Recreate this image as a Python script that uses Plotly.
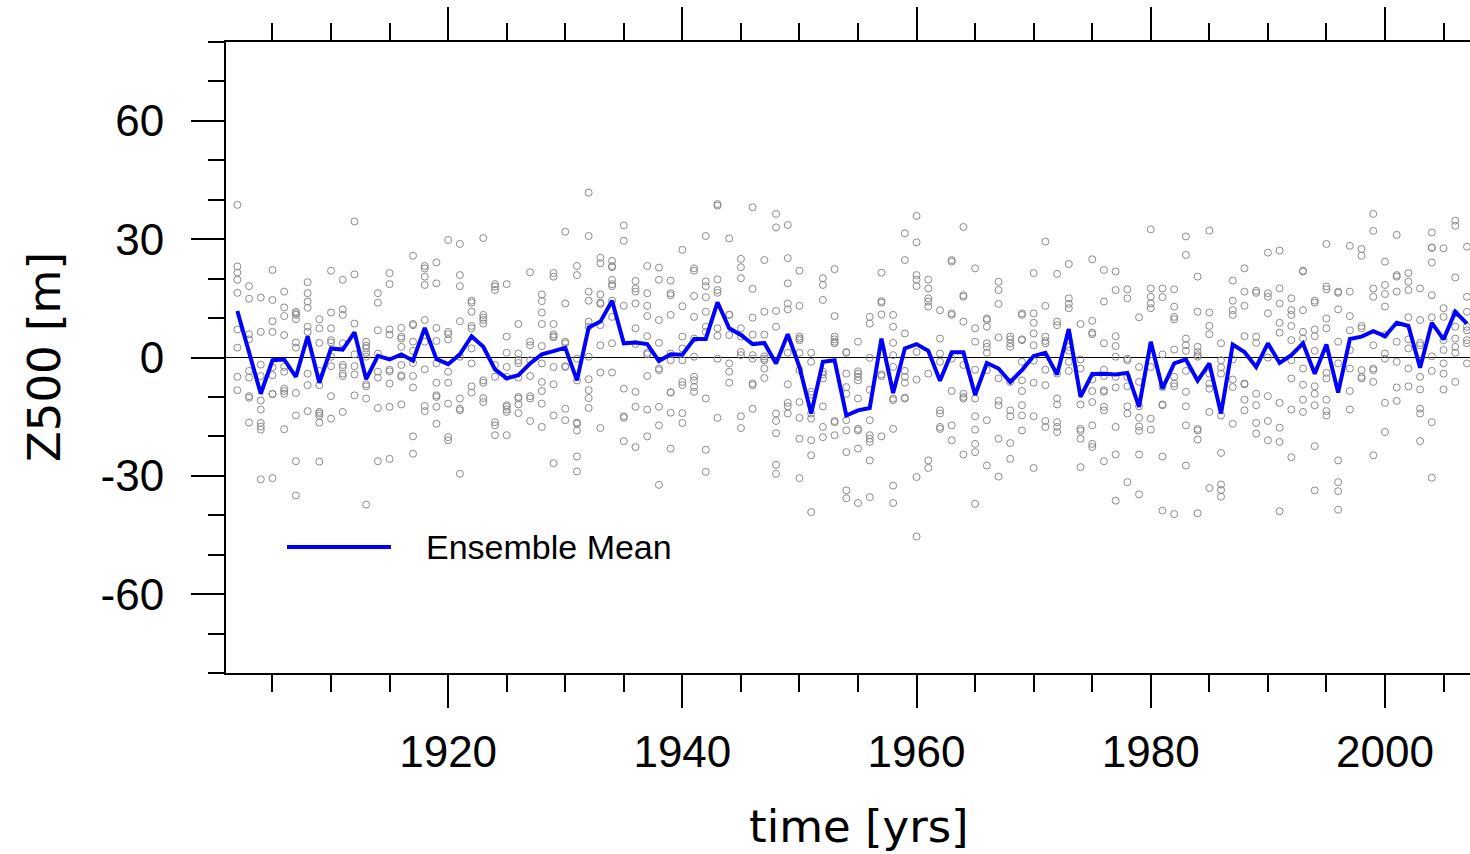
import plotly.graph_objects as go

years = list(range(1902, 2008))

ens_mean = [
    11.8, 1.0, -9.2, -0.7, -0.5, -4.9, 5.4, -6.4, 2.3, 2.0,          # 1902-1911
    6.4, -5.5, 0.4, -0.5, 0.8, -0.8, 7.5, -0.4, -1.7, 0.8,           # 1912-1921
    5.4, 2.7, -3.0, -5.3, -4.5, -1.5, 0.8, 1.6, 2.5, -5.8,           # 1922-1931
    7.6, 9.1, 14.4, 3.6, 3.8, 3.4, -0.9, 0.8, 0.7, 4.7,              # 1932-1941
    4.7, 14.0, 7.4, 5.7, 3.4, 3.7, -1.5, 5.9, -2.4, -14.2,           # 1942-1951
    -1.1, -0.7, -14.7, -13.4, -12.8, 4.8, -9.0, 2.3, 3.4, 1.7,       # 1952-1961
    -5.9, 1.3, 1.3, -9.5, -1.4, -2.8, -6.2, -3.2, 0.4, 1.2,          # 1962-1971
    -4.3, 7.2, -10.0, -4.2, -4.1, -4.3, -3.9, -12.5, 4.0, -7.9,      # 1972-1981
    -1.5, -0.5, -5.9, -1.5, -14.2, 3.3, 1.4, -2.4, 3.6, -1.4,        # 1982-1991
    0.6, 3.6, -4.1, 3.3, -8.9, 4.7, 5.3, 6.7, 5.4, 8.8,              # 1992-2001
    8.0, -2.6, 8.8, 4.6, 11.6, 8.6,                                  # 2002-2007
]

ensemble_members = [
    [38.7, 23.1, 21.5, 19.7, 16.4, 7.1, 2.5, -4.9, -8.3],
    [18.1, 14.9, 5.9, 4.6, -3.4, -5.1, -9.8, -10.2, -16.5],
    [15.2, 6.5, -1.8, -4.7, -10.9, -13.2, -16.6, -17.5, -18.3, -30.9],
    [22.2, 14.6, 9.2, 6.5, -2.5, -4.5, -9.2, -9.3, -30.6],
    [16.7, 12.7, 10.5, 5.7, -2.4, -3.6, -7.9, -8.5, -9.2, -18.2],
    [11.6, 11.2, 10.8, 9.7, 3.8, 2.5, -9.0, -14.7, -26.3, -35.0],
    [19.1, 16.3, 14.2, 12.6, 7.8, 6.5, -4.1, -7.0, -13.6],
    [9.7, 7.4, 3.7, -3.4, -7.0, -13.8, -14.2, -14.8, -16.5, -26.4],
    [22.0, 11.4, 7.4, 4.4, 3.8, 0.2, -2.2, -9.8, -15.5],
    [19.7, 12.2, 10.8, 3.6, -1.9, -2.5, -4.1, -4.7, -13.8],
    [34.5, 21.1, 8.6, 0.8, -2.2, -4.3, -9.6],
    [4.0, 3.0, 2.3, 1.2, 0.2, -6.8, -7.3, -10.4, -37.3],
    [16.3, 13.9, 6.9, 1.0, -3.6, -5.1, -12.8, -26.3],
    [21.4, 18.6, 7.1, 5.8, -3.1, -3.5, -6.6, -12.5, -25.7],
    [7.5, 5.3, 4.8, 2.7, -1.9, -4.5, -4.9, -11.9],
    [25.8, 8.5, 8.2, 4.0, 1.7, -1.4, -4.7, -7.6, -20.0, -24.4],
    [23.2, 22.6, 20.5, 18.4, 9.5, 4.0, -3.0, -12.3, -13.6],
    [24.1, 18.8, 7.5, 4.2, -1.5, -6.4, -9.6, -10.0, -12.5, -16.8],
    [29.8, 6.5, 5.9, 4.6, -3.6, -6.4, -11.7, -20.2, -21.0],
    [28.8, 20.9, 18.1, 9.2, 0.2, -10.4, -13.0, -13.4, -29.5],
    [14.4, 13.9, 11.6, 8.0, 7.4, 2.3, -1.5, -7.3, -8.9],
    [30.3, 10.8, 10.1, 9.5, 8.6, -5.8, -6.4, -10.3, -11.3],
    [18.6, 18.0, 17.1, -1.9, -4.9, -16.4, -17.2, -19.7],
    [18.6, 5.3, 1.2, -2.4, -4.9, -12.1, -12.5, -13.2, -13.8, -19.7],
    [8.5, 1.0, -0.7, -1.4, -5.1, -10.0, -10.4, -11.9, -14.1],
    [21.6, 4.0, 3.1, -0.7, -4.7, -9.8, -10.4, -16.1],
    [16.0, 14.3, 11.4, 8.5, 2.9, -1.5, -6.2, -8.5, -11.7, -17.6],
    [21.4, 20.5, 8.5, 5.9, 5.4, 5.1, -2.4, -6.8, -14.7, -26.8],
    [31.9, 13.7, 4.0, 3.6, -2.2, -2.4, -13.0, -15.9],
    [23.2, 20.9, -0.3, -5.8, -16.5, -16.8, -18.5, -25.1, -28.9],
    [41.8, 30.8, 16.7, 14.4, 9.1, 7.8, 0.2, -5.5, -8.3, -10.3, -12.8],
    [25.3, 23.9, 16.0, 13.9, 13.6, 8.2, 3.1, -3.8, -17.9],
    [24.5, 23.2, 22.9, 19.7, 18.6, 18.1, 14.4, 10.3, 3.6, -3.8],
    [33.5, 29.6, 13.1, -7.9, -14.9, -15.3, -21.2],
    [19.4, 17.5, 16.7, 13.7, 7.4, 3.4, -8.7, -12.5, -22.7],
    [23.2, 16.3, 13.1, 10.5, 5.4, 1.2, 0.8, -4.7, -13.2, -20.0],
    [22.8, 19.7, 9.5, 3.7, -2.8, -3.2, -12.5, -17.2, -32.3],
    [19.5, 16.3, 15.8, 10.8, 1.0, -0.7, -8.8, -8.9, -14.0, -23.1],
    [27.3, 13.0, 5.3, 2.3, -0.7, -6.2, -7.0, -14.1, -16.6],
    [22.6, 22.0, 15.6, 10.3, 4.8, 0.2, -4.9, -5.8, -7.5, -8.7],
    [30.8, 19.3, 18.1, 15.3, 11.6, 7.8, 6.5, -10.4, -23.4, -29.0],
    [38.9, 38.5, 19.8, 17.1, 16.4, 7.4, 5.5, -0.3, -15.3],
    [30.2, 10.9, 10.8, 5.7, -1.5, -3.6, -6.4],
    [25.0, 22.9, 20.1, 7.4, 5.3, 1.4, 0.6, -14.9, -17.9],
    [38.1, 17.4, 10.1, 5.8, 0.6, -0.3, -6.6, -7.0, -13.0],
    [24.7, 11.6, 5.8, 0.3, -0.3, -0.7, -2.8, -5.2],
    [36.4, 33.0, 11.8, 7.8, -14.2, -16.1, -19.2, -27.2, -29.5],
    [33.6, 25.2, 18.8, 13.7, 12.2, 1.2, -6.8, -11.5, -12.4, -14.2],
    [22.0, 13.1, 5.3, 4.8, 4.4, 1.2, -3.2, -11.3, -15.3, -20.6, -30.6],
    [1.2, -1.1, -8.7, -9.4, -14.2, -15.5, -21.0, -24.8, -39.2],
    [20.1, 18.4, 14.6, -3.6, -4.3, -5.3, -12.4, -17.6, -20.2],
    [22.4, 10.5, 5.3, 4.6, 4.0, 3.6, -16.1, -16.4, -19.7],
    [1.4, 1.2, -4.1, -7.5, -9.2, -15.9, -18.5, -24.0, -33.7, -35.7],
    [4.0, -3.5, -4.1, -4.9, -5.8, -10.4, -18.1, -18.5, -23.1, -36.9],
    [10.3, 8.6, -0.1, -8.2, -15.9, -19.7, -20.6, -21.4, -26.1, -35.4],
    [21.5, 14.3, 13.9, 10.9, -4.3, -4.7, -20.0],
    [10.8, 7.8, 3.7, 0.6, -2.4, -10.4, -10.8, -18.1, -32.5, -36.9],
    [31.5, 24.7, 6.1, -3.4, -4.9, -6.4, -10.2, -10.4],
    [35.9, 29.2, 20.9, 19.7, 18.1, 1.4, -5.6, -30.3, -45.4],
    [19.7, 17.5, 15.0, 14.2, 12.9, -4.1, -26.1, -28.0],
    [12.0, 4.8, 1.0, -1.1, -13.4, -14.2, -17.6, -18.1],
    [24.7, 24.3, 11.2, 10.8, -0.3, -8.5, -17.2, -21.0],
    [33.1, 15.8, 15.4, 9.1, -1.9, -9.2, -10.0, -10.4, -24.6],
    [22.6, 7.4, 4.0, -3.1, -10.4, -14.9, -18.3, -21.9, -24.0, -37.1],
    [9.9, 9.5, 7.8, 3.6, 2.7, 1.2, -3.2, -15.9, -27.4],
    [19.2, 17.1, 13.6, 5.1, -5.3, -11.0, -12.1, -20.6, -30.2],
    [5.3, 4.6, 3.6, 2.7, -6.2, -13.4, -14.9, -21.7, -25.7],
    [11.2, 10.8, 4.6, 4.4, -1.1, -5.8, -8.5, -12.1, -14.7, -18.5],
    [21.4, 11.2, 8.8, 6.1, 3.1, -0.8, -6.4, -14.9, -28.0],
    [29.4, 13.1, 5.3, 4.2, 3.6, -3.1, -7.0, -16.1, -17.6],
    [21.2, 9.1, 8.2, -4.1, -10.4, -11.9, -16.4, -17.6, -18.9],
    [23.7, 15.0, 13.6, 12.5, 2.7, 1.7, -1.1, -3.4],
    [8.5, -0.5, -2.8, -11.9, -18.1, -18.6, -20.6, -27.8],
    [24.9, 9.3, 6.3, 5.9, -5.6, -8.5, -11.3, -17.2, -21.9, -22.7],
    [22.2, 14.2, 3.6, -3.1, -4.7, -8.3, -8.7, -12.5, -13.4, -26.3],
    [21.8, 17.1, 5.4, 2.9, 0.2, -4.9, -7.6, -17.6, -24.6, -36.3],
    [17.3, 15.0, -0.3, -0.7, -4.9, -7.3, -12.4, -14.2, -31.6],
    [10.2, -2.4, -6.2, -12.4, -15.3, -17.5, -18.6, -24.6, -34.7],
    [32.5, 17.5, 15.4, 13.7, 12.5, 0.8, -2.4, -15.5, -18.3],
    [17.5, 15.3, 0.8, -7.5, -11.9, -12.1, -25.1, -38.8],
    [17.3, 12.9, 10.3, 9.7, 2.0, -4.9, -6.6, -7.3, -39.7],
    [30.7, 26.0, 4.8, 3.1, 1.7, -3.4, -8.7, -12.4, -17.2, -27.4],
    [20.5, 11.6, 2.7, 1.4, 0.6, 0.2, -18.1, -18.5, -20.8, -39.5],
    [32.2, 11.4, 8.0, 5.9, -4.1, -6.6, -7.9, -13.8, -33.1],
    [3.6, -0.7, -2.5, -4.1, -14.7, -24.2, -32.2, -33.6, -35.3],
    [19.5, 14.4, 12.0, 10.8, -0.5, -5.6, -7.5, -16.8],
    [22.6, 16.7, 13.1, 5.4, -6.6, -6.8, -10.7, -13.4],
    [16.9, 16.4, 5.3, 3.7, -9.2, -12.1, -16.6, -19.3],
    [26.6, 16.3, 15.4, 11.2, 0.0, -9.8, -16.1, -21.0],
    [27.1, 17.5, 13.7, 8.8, 6.3, -11.5, -17.8, -21.4, -39.0],
    [15.0, 12.0, 10.8, 8.0, 4.4, -0.7, -5.3, -13.2, -25.3],
    [22.0, 21.8, 12.0, 6.5, 4.8, -2.8, -6.9, -10.7, -13.8],
    [14.4, 13.9, 7.1, 5.4, 1.7, -7.3, -9.2, -12.1, -22.5, -33.7],
    [28.8, 18.0, 17.3, 9.9, 7.4, -3.9, -5.3, -10.7, -13.6, -14.7],
    [16.7, 16.4, 12.2, 4.0, -1.5, -26.1, -31.6, -33.9, -38.6],
    [28.3, 16.7, 10.5, 6.9, 1.9, -2.8, -8.5, -13.2],
    [27.5, 25.8, 8.0, 7.4, -3.2, -4.9, -5.3],
    [36.4, 32.1, 17.5, 15.4, 3.1, -2.8, -3.2, -6.2, -24.8],
    [24.3, 18.4, 16.1, 12.9, 5.7, 1.0, -0.3, -11.5, -18.9],
    [31.1, 20.9, 20.5, 16.7, 4.0, -1.1, -7.6, -11.0],
    [21.4, 19.2, 17.1, 10.2, 4.6, 2.3, -2.8, -7.3],
    [17.5, 9.5, 3.7, 3.1, -4.9, -8.1, -13.0, -14.2, -21.2],
    [31.7, 27.9, 27.8, 24.1, 15.8, 10.2, 0.3, -3.4, -16.4, -30.5],
    [27.7, 12.5, 10.3, 4.4, 1.9, -1.5, -4.1, -8.1],
    [34.7, 33.4, 20.3, 11.2, 7.8, 4.8, 2.7, 1.2, -6.2],
    [28.1, 15.4, 11.6, 7.8, 6.9, 4.4, 3.6, -1.5],
]

y_ticks = [-60, -30, 0, 30, 60]
y_ticktext = ["-60", "-30", "0", "30", "60"]
x_ticks = [1920, 1940, 1960, 1980, 2000]
x_ticktext = ["1920", "1940", "1960", "1980", "2000"]
legend_label = "Ensemble Mean"
x_title = "time [yrs]"
y_title = "Z500 [m]"

# flatten member scatter
mx, my = [], []
for yr, vals in zip(years, ensemble_members):
    for v in vals:
        mx.append(yr)
        my.append(v)

W, H = 1470, 854
L, R, T, B = 226, 0, 42, 181
pw, ph = W - L - R, H - T - B


def px(xpix):
    return (xpix - L) / pw


def py(ypix):
    return (H - B - ypix) / ph


fig = go.Figure()
fig.add_trace(go.Scatter(
    x=mx, y=my, mode="markers",
    marker=dict(symbol="circle-open", size=7, color="#8a8a8a", line=dict(width=1, color="#8a8a8a")),
    showlegend=False, hoverinfo="skip",
))
fig.add_trace(go.Scatter(
    x=years, y=ens_mean, mode="lines",
    line=dict(color="#0000ff", width=4),
    name=legend_label, showlegend=False,
))
# invisible trace to anchor the top mirror axis
fig.add_trace(go.Scatter(x=[years[0]], y=[0], xaxis="x2", mode="markers",
                         marker=dict(opacity=0), showlegend=False, hoverinfo="skip"))

tickfont = dict(family="Liberation Sans, Arial, sans-serif", size=44, color="black")
xrange = [1901.03, 2007.26]

common_x = dict(
    range=xrange, showgrid=False, zeroline=False,
    showline=True, linecolor="black", linewidth=2,
    ticks="outside", ticklen=33, tickwidth=2, tickcolor="black",
    tickvals=x_ticks,
    minor=dict(ticks="outside", ticklen=17, tickwidth=1.5, tickcolor="black",
               tick0=1900, dtick=5, showgrid=False),
)

fig.update_layout(
    width=W, height=H,
    margin=dict(l=L, r=R, t=T, b=B, pad=0),
    paper_bgcolor="white", plot_bgcolor="white",
    showlegend=False,
    xaxis=dict(**common_x, side="bottom", tickfont=tickfont,
               ticktext=x_ticktext, ticklabelstandoff=6),
    xaxis2=dict(**common_x, side="top", overlaying="x", matches="x",
                showticklabels=False),
    yaxis=dict(
        range=[-80, 80], showgrid=False,
        zeroline=True, zerolinecolor="black", zerolinewidth=1,
        showline=True, linecolor="black", linewidth=2,
        ticks="outside", ticklen=33, tickwidth=2, tickcolor="black",
        tickvals=y_ticks, ticktext=y_ticktext, tickfont=tickfont, ticklabelstandoff=18,
        minor=dict(ticks="outside", ticklen=16, tickwidth=1.5, tickcolor="black",
                   tick0=0, dtick=10, showgrid=False),
    ),
    shapes=[
        dict(type="line", xref="paper", yref="paper",
             x0=px(287), x1=px(391), y0=py(547), y1=py(547),
             line=dict(color="#0000ff", width=4)),
    ],
    annotations=[
        dict(text=legend_label, xref="paper", yref="paper", x=px(424), y=py(547),
             xanchor="left", yanchor="middle", showarrow=False,
             font=dict(family="Liberation Sans, Arial, sans-serif", size=34, color="black")),
        dict(text=x_title, xref="paper", yref="paper", x=px(859), y=py(826),
             xanchor="center", yanchor="middle", showarrow=False,
             font=dict(family="DejaVu Sans, sans-serif", size=45, color="black")),
        dict(text=y_title, xref="paper", yref="paper", x=px(44), y=py(357),
             xanchor="center", yanchor="middle", showarrow=False, textangle=-90,
             font=dict(family="DejaVu Sans, sans-serif", size=45, color="black")),
    ],
)

fig.write_html("out.html")
